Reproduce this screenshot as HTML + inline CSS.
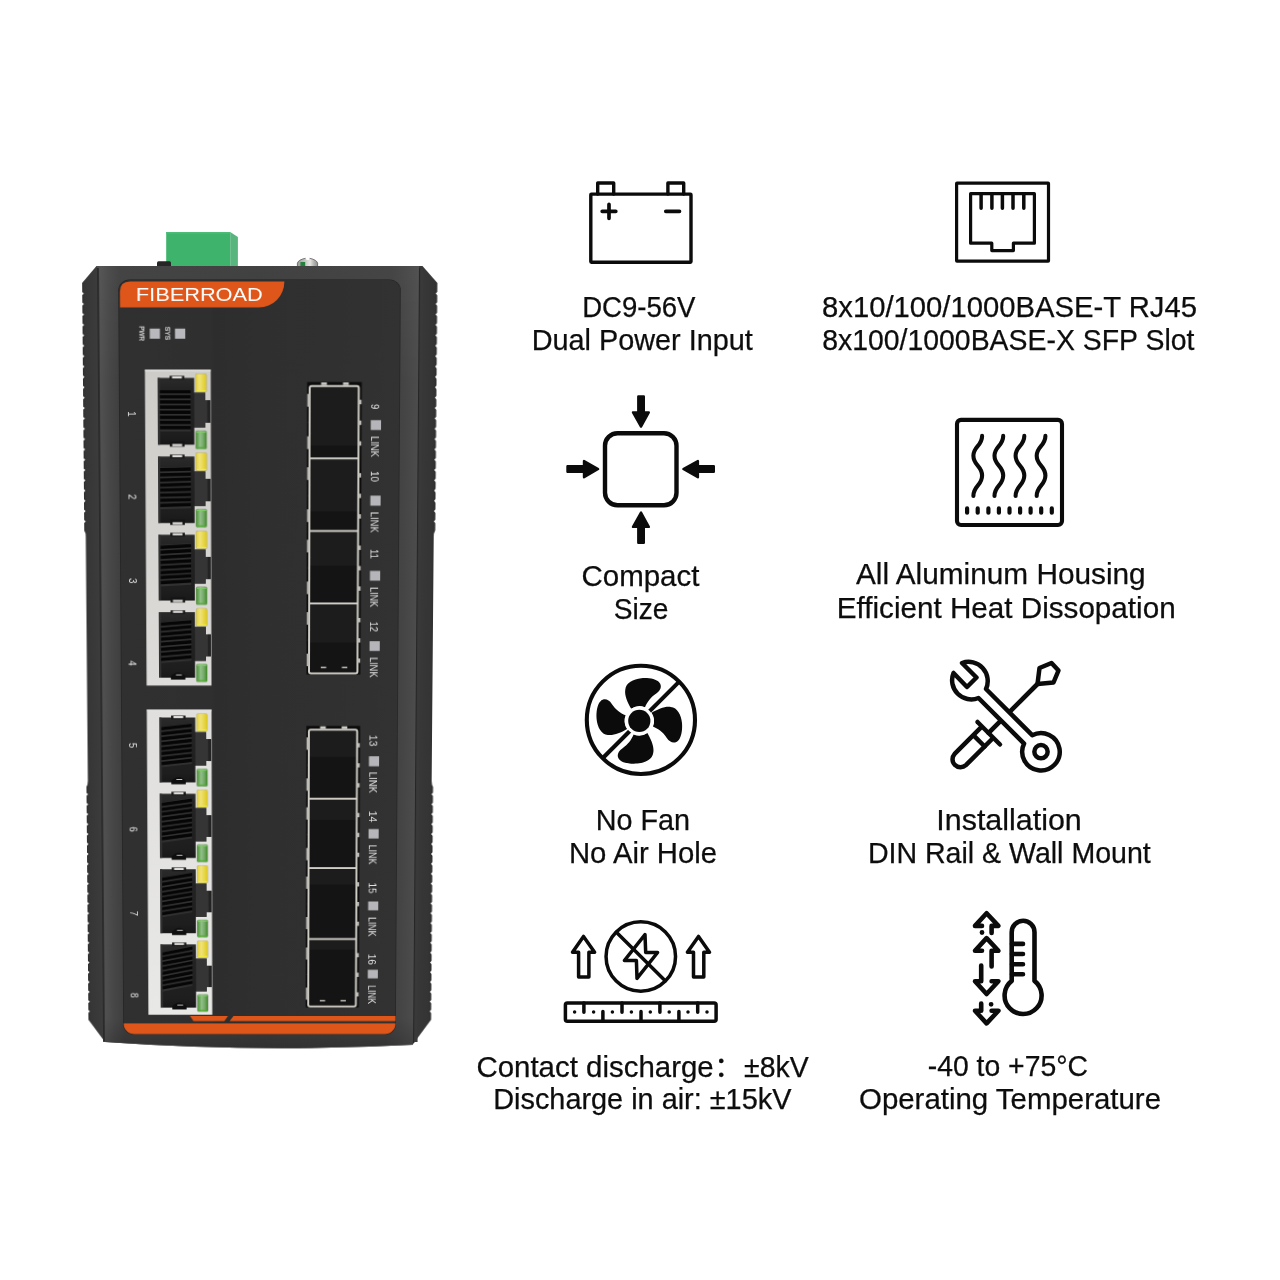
<!DOCTYPE html>
<html lang="en">
<head>
<meta charset="utf-8">
<title>FIBERROAD Industrial Switch</title>
<style>
html,body{margin:0;padding:0;background:#fff;}
#page{position:relative;width:1280px;height:1280px;overflow:hidden;background:#fff;font-family:"Liberation Sans","Noto Sans CJK SC",sans-serif;}
#topparts{position:absolute;left:0;top:0;}
#dev{position:absolute;left:60px;top:266px;width:400px;height:830px;transform-origin:200px 0;transform:matrix3d(1,0,0,0, 0,1,0,0.000048, 0,0,1,0, 0,0,0,1);}
#dev svg{display:block;}
#info{position:absolute;left:0;top:0;}
#info .t text{font-family:"Liberation Sans","Noto Sans CJK SC",sans-serif;font-size:28.9px;fill:#0d0d0d;stroke:#0d0d0d;stroke-width:0.25px;}
</style>
</head>
<body>
<div id="page">

<!-- parts on the top face of the device (not perspective transformed) -->
<svg id="topparts" width="1280" height="1280" viewBox="0 0 1280 1280">
  <defs>
    <linearGradient id="screwg" x1="0" x2="1" y1="0" y2="0">
      <stop offset="0" stop-color="#9a9896"/><stop offset="0.4" stop-color="#c9c7c4"/><stop offset="0.62" stop-color="#e6e5e3"/><stop offset="0.8" stop-color="#b5b3b0"/><stop offset="1" stop-color="#8e8c8a"/>
    </linearGradient>
  </defs>
  <polygon points="166.2,232 230.2,232 230.2,267 166.2,267" fill="#3db36b"/>
  <polygon points="230.2,232 237.9,237 237.9,267 230.2,267" fill="#58b57e"/>
  <rect x="166.2" y="232" width="64" height="1.6" fill="#4cbd78"/>
  <rect x="157" y="261.2" width="14" height="6" rx="1.5" fill="#262626"/>
  <path d="M297,267 L297,263.4 Q297.6,259.6 305.6,258 L306.6,260 L308.6,260 L309.5,258 Q317.4,259.6 318,263.4 L318,267 Z" fill="url(#screwg)"/>
  <path d="M297.4,266 L297.4,263.4 Q298,259.9 305.4,258.3 M309.7,258.3 Q317,259.9 317.6,263.4 L317.6,266" fill="none" stroke="#6e6e6e" stroke-width="0.9"/>
  <rect x="300.4" y="262" width="4.8" height="5" fill="#24803f"/>
</svg>

<div id="dev">
<svg width="400" height="830" viewBox="0 0 400 830">
<defs>
  <linearGradient id="frameg" x1="0" x2="1" y1="0" y2="0" gradientUnits="objectBoundingBox">
    <stop offset="0" stop-color="#4f4f4f"/><stop offset="0.012" stop-color="#4f4f4f"/><stop offset="0.035" stop-color="#474747"/><stop offset="0.07" stop-color="#3e3e3e"/>
    <stop offset="0.5" stop-color="#3b3b3b"/>
    <stop offset="0.915" stop-color="#3f3f3f"/><stop offset="0.96" stop-color="#454545"/><stop offset="1" stop-color="#4c4c4c"/>
  </linearGradient>
  <linearGradient id="sideg" x1="22" x2="377.5" y1="0" y2="0" gradientUnits="userSpaceOnUse">
    <stop offset="0" stop-color="#303030"/><stop offset="0.008" stop-color="#363636"/><stop offset="0.04" stop-color="#3b3b3b"/>
    <stop offset="0.5" stop-color="#383838"/><stop offset="0.955" stop-color="#383838"/><stop offset="0.99" stop-color="#343434"/><stop offset="1" stop-color="#2f2f2f"/>
  </linearGradient>
  <linearGradient id="panelg" x1="0" x2="1" y1="0" y2="0">
    <stop offset="0" stop-color="#303030"/><stop offset="0.325" stop-color="#2f2f2f"/><stop offset="0.34" stop-color="#2d2d2d"/>
    <stop offset="0.5" stop-color="#2f2f2f"/><stop offset="0.75" stop-color="#303030"/><stop offset="1" stop-color="#323232"/>
  </linearGradient>
  <linearGradient id="fadeg" x1="0" x2="0" y1="0" y2="1">
    <stop offset="0" stop-color="#000" stop-opacity="0"/><stop offset="0.45" stop-color="#000" stop-opacity="0"/><stop offset="1" stop-color="#000" stop-opacity="0.13"/>
  </linearGradient>
  <linearGradient id="topg" x1="0" x2="0" y1="0" y2="1">
    <stop offset="0" stop-color="#fff" stop-opacity="0.035"/><stop offset="1" stop-color="#fff" stop-opacity="0"/>
  </linearGradient>
  <linearGradient id="botg" x1="0" x2="0" y1="0" y2="1">
    <stop offset="0" stop-color="#000" stop-opacity="0"/><stop offset="1" stop-color="#000" stop-opacity="0.18"/>
  </linearGradient>
  <linearGradient id="yled" x1="0" x2="1" y1="0" y2="0">
    <stop offset="0" stop-color="#e6d232"/><stop offset="0.35" stop-color="#efe27a"/><stop offset="0.6" stop-color="#e9da55"/><stop offset="1" stop-color="#dcc81e"/>
  </linearGradient>
  <linearGradient id="gled" x1="0" x2="1" y1="0" y2="0">
    <stop offset="0" stop-color="#4b9233"/><stop offset="0.4" stop-color="#90bf88"/><stop offset="0.7" stop-color="#74a868"/><stop offset="1" stop-color="#3f8a28"/>
  </linearGradient>
  <linearGradient id="cavg" x1="0" x2="0" y1="0" y2="1">
    <stop offset="0" stop-color="#2b2b2b"/><stop offset="0.15" stop-color="#242424"/><stop offset="0.85" stop-color="#1e1e1e"/><stop offset="1" stop-color="#181818"/>
  </linearGradient>
  <clipPath id="panelclip"><rect x="58.6" y="14" width="281.9" height="783.5" rx="11"/></clipPath>
  <linearGradient id="rjg0" x1="0" x2="0" y1="0" y2="1"><stop offset="0" stop-color="#cdccc8"/><stop offset="1" stop-color="#dddcda"/></linearGradient>
  <linearGradient id="rjg1" x1="0" x2="0" y1="0" y2="1"><stop offset="0" stop-color="#e0dfdd"/><stop offset="1" stop-color="#e8e8e6"/></linearGradient>
  <g id="rjcav">
    <path d="M12.8,8.1 H49.5 V23.3 H60.6 V30.9 H65.6 V53.7 H60.6 V58.5 H49.5 V76 H12.8 Z" fill="url(#cavg)"/>
    <path d="M49.5,23.3 H60.6 V30.9 H65.6 V53.7 H60.6 V58.5 H49.5 Z" fill="#353535"/>
    <rect x="62.6" y="30.9" width="3" height="22.8" fill="#232323"/>
    <rect x="12.8" y="8.1" width="2.2" height="67.9" fill="#323232"/>
  </g>
  <g id="rjfront">
    <rect x="24.8" y="6.1" width="14.8" height="4" fill="#1a1a1a"/><rect x="27.2" y="6.6" width="10" height="2.2" fill="#dedddb"/>
    <rect x="50.6" y="3.8" width="11.6" height="19" rx="1.6" fill="#8f8a55" opacity="0.5"/>
    <rect x="51.1" y="4.3" width="10.7" height="17.9" rx="1.6" fill="url(#yled)"/>
    <rect x="51.6" y="20.6" width="9.7" height="1.3" fill="#f3ee3a" opacity="0.9"/>
    <rect x="50.6" y="61.5" width="11.6" height="19" rx="1.6" fill="#46603a" opacity="0.5"/>
    <rect x="51" y="62" width="10.7" height="18.2" rx="1.6" fill="url(#gled)"/>
    <rect x="51.5" y="62.4" width="9.7" height="1.4" fill="#7fd066" opacity="0.9"/><rect x="51.5" y="78.4" width="9.7" height="1.4" fill="#4fae2a" opacity="0.9"/>
  </g>
    <!-- top / bottom key notches -->
    <rect x="24.8" y="6.1" width="14.8" height="4" fill="#1a1a1a"/><rect x="27.2" y="6.6" width="10" height="2.2" fill="#d9d8d4"/>
    <rect x="24.8" y="72.4" width="14.8" height="5.6" fill="#141414"/><rect x="27.2" y="75.4" width="10" height="2.2" fill="#d9d8d4"/>
    <!-- LEDs -->
    <rect x="50.6" y="3.8" width="11.6" height="19" rx="1.6" fill="#8f8a55" opacity="0.5"/>
    <rect x="51.1" y="4.3" width="10.7" height="17.9" rx="1.6" fill="url(#yled)"/>
    <rect x="50.6" y="61.5" width="11.6" height="19" rx="1.6" fill="#46603a" opacity="0.5"/>
    <rect x="51" y="62" width="10.7" height="18.2" rx="1.6" fill="url(#gled)"/>
  </g>
  <g id="sfp">
    <rect x="1" y="1" width="49.6" height="73.4" fill="#1c1c1c"/>
    <rect x="1" y="61.4" width="49.6" height="13" fill="#131313"/>
    <rect x="1" y="0" width="49.6" height="2" fill="#cfcdc6"/>
  </g>
</defs>
<path d="M36.5,0 L362.5,0 L377.5,17 L377.5,782 L358.5,809 Q200,817.6 39,806 L22,782 L22,17 Z" fill="url(#sideg)"/>
<path d="M20.5,24.9 Q22.4,26 23.6,27.5 Q22.4,29 20.5,30.1 Z M379,24.9 Q377.1,26 375.9,27.5 Q377.1,29 379,30.1 Z M20.5,35.4 Q22.4,36.5 23.6,38 Q22.4,39.5 20.5,40.6 Z M379,35.4 Q377.1,36.5 375.9,38 Q377.1,39.5 379,40.6 Z M20.5,45.9 Q22.4,47 23.6,48.5 Q22.4,50 20.5,51.1 Z M379,45.9 Q377.1,47 375.9,48.5 Q377.1,50 379,51.1 Z M20.5,56.4 Q22.4,57.5 23.6,59 Q22.4,60.5 20.5,61.6 Z M379,56.4 Q377.1,57.5 375.9,59 Q377.1,60.5 379,61.6 Z M20.5,66.9 Q22.4,68 23.6,69.5 Q22.4,71 20.5,72.1 Z M379,66.9 Q377.1,68 375.9,69.5 Q377.1,71 379,72.1 Z M20.5,77.4 Q22.4,78.5 23.6,80 Q22.4,81.5 20.5,82.6 Z M379,77.4 Q377.1,78.5 375.9,80 Q377.1,81.5 379,82.6 Z M20.5,87.9 Q22.4,89 23.6,90.5 Q22.4,92 20.5,93.1 Z M379,87.9 Q377.1,89 375.9,90.5 Q377.1,92 379,93.1 Z M20.5,98.4 Q22.4,99.5 23.6,101 Q22.4,102.5 20.5,103.6 Z M379,98.4 Q377.1,99.5 375.9,101 Q377.1,102.5 379,103.6 Z M20.5,108.9 Q22.4,110 23.6,111.5 Q22.4,113 20.5,114.1 Z M379,108.9 Q377.1,110 375.9,111.5 Q377.1,113 379,114.1 Z M20.5,119.4 Q22.4,120.5 23.6,122 Q22.4,123.5 20.5,124.6 Z M379,119.4 Q377.1,120.5 375.9,122 Q377.1,123.5 379,124.6 Z M20.5,129.9 Q22.4,131 23.6,132.5 Q22.4,134 20.5,135.1 Z M379,129.9 Q377.1,131 375.9,132.5 Q377.1,134 379,135.1 Z M20.5,140.4 Q22.4,141.5 23.6,143 Q22.4,144.5 20.5,145.6 Z M379,140.4 Q377.1,141.5 375.9,143 Q377.1,144.5 379,145.6 Z M20.5,150.9 Q22.4,152 23.6,153.5 Q22.4,155 20.5,156.1 Z M379,150.9 Q377.1,152 375.9,153.5 Q377.1,155 379,156.1 Z M20.5,161.4 Q22.4,162.5 23.6,164 Q22.4,165.5 20.5,166.6 Z M379,161.4 Q377.1,162.5 375.9,164 Q377.1,165.5 379,166.6 Z M20.5,171.9 Q22.4,173 23.6,174.5 Q22.4,176 20.5,177.1 Z M379,171.9 Q377.1,173 375.9,174.5 Q377.1,176 379,177.1 Z M20.5,182.4 Q22.4,183.5 23.6,185 Q22.4,186.5 20.5,187.6 Z M379,182.4 Q377.1,183.5 375.9,185 Q377.1,186.5 379,187.6 Z M20.5,192.9 Q22.4,194 23.6,195.5 Q22.4,197 20.5,198.1 Z M379,192.9 Q377.1,194 375.9,195.5 Q377.1,197 379,198.1 Z M20.5,203.4 Q22.4,204.5 23.6,206 Q22.4,207.5 20.5,208.6 Z M379,203.4 Q377.1,204.5 375.9,206 Q377.1,207.5 379,208.6 Z M20.5,213.9 Q22.4,215 23.6,216.5 Q22.4,218 20.5,219.1 Z M379,213.9 Q377.1,215 375.9,216.5 Q377.1,218 379,219.1 Z M20.5,224.4 Q22.4,225.5 23.6,227 Q22.4,228.5 20.5,229.6 Z M379,224.4 Q377.1,225.5 375.9,227 Q377.1,228.5 379,229.6 Z M20.5,234.9 Q22.4,236 23.6,237.5 Q22.4,239 20.5,240.1 Z M379,234.9 Q377.1,236 375.9,237.5 Q377.1,239 379,240.1 Z M20.5,245.4 Q22.4,246.5 23.6,248 Q22.4,249.5 20.5,250.6 Z M379,245.4 Q377.1,246.5 375.9,248 Q377.1,249.5 379,250.6 Z M20.5,255.9 Q22.4,257 23.6,258.5 Q22.4,260 20.5,261.1 Z M379,255.9 Q377.1,257 375.9,258.5 Q377.1,260 379,261.1 Z M20.5,539.4 Q22.4,540.5 23.6,542 Q22.4,543.5 20.5,544.6 Z M379,539.4 Q377.1,540.5 375.9,542 Q377.1,543.5 379,544.6 Z M20.5,549.9 Q22.4,551 23.6,552.5 Q22.4,554 20.5,555.1 Z M379,549.9 Q377.1,551 375.9,552.5 Q377.1,554 379,555.1 Z M20.5,560.4 Q22.4,561.5 23.6,563 Q22.4,564.5 20.5,565.6 Z M379,560.4 Q377.1,561.5 375.9,563 Q377.1,564.5 379,565.6 Z M20.5,570.9 Q22.4,572 23.6,573.5 Q22.4,575 20.5,576.1 Z M379,570.9 Q377.1,572 375.9,573.5 Q377.1,575 379,576.1 Z M20.5,581.4 Q22.4,582.5 23.6,584 Q22.4,585.5 20.5,586.6 Z M379,581.4 Q377.1,582.5 375.9,584 Q377.1,585.5 379,586.6 Z M20.5,591.9 Q22.4,593 23.6,594.5 Q22.4,596 20.5,597.1 Z M379,591.9 Q377.1,593 375.9,594.5 Q377.1,596 379,597.1 Z M20.5,602.4 Q22.4,603.5 23.6,605 Q22.4,606.5 20.5,607.6 Z M379,602.4 Q377.1,603.5 375.9,605 Q377.1,606.5 379,607.6 Z M20.5,612.9 Q22.4,614 23.6,615.5 Q22.4,617 20.5,618.1 Z M379,612.9 Q377.1,614 375.9,615.5 Q377.1,617 379,618.1 Z M20.5,623.4 Q22.4,624.5 23.6,626 Q22.4,627.5 20.5,628.6 Z M379,623.4 Q377.1,624.5 375.9,626 Q377.1,627.5 379,628.6 Z M20.5,633.9 Q22.4,635 23.6,636.5 Q22.4,638 20.5,639.1 Z M379,633.9 Q377.1,635 375.9,636.5 Q377.1,638 379,639.1 Z M20.5,644.4 Q22.4,645.5 23.6,647 Q22.4,648.5 20.5,649.6 Z M379,644.4 Q377.1,645.5 375.9,647 Q377.1,648.5 379,649.6 Z M20.5,654.9 Q22.4,656 23.6,657.5 Q22.4,659 20.5,660.1 Z M379,654.9 Q377.1,656 375.9,657.5 Q377.1,659 379,660.1 Z M20.5,665.4 Q22.4,666.5 23.6,668 Q22.4,669.5 20.5,670.6 Z M379,665.4 Q377.1,666.5 375.9,668 Q377.1,669.5 379,670.6 Z M20.5,675.9 Q22.4,677 23.6,678.5 Q22.4,680 20.5,681.1 Z M379,675.9 Q377.1,677 375.9,678.5 Q377.1,680 379,681.1 Z M20.5,686.4 Q22.4,687.5 23.6,689 Q22.4,690.5 20.5,691.6 Z M379,686.4 Q377.1,687.5 375.9,689 Q377.1,690.5 379,691.6 Z M20.5,696.9 Q22.4,698 23.6,699.5 Q22.4,701 20.5,702.1 Z M379,696.9 Q377.1,698 375.9,699.5 Q377.1,701 379,702.1 Z M20.5,707.4 Q22.4,708.5 23.6,710 Q22.4,711.5 20.5,712.6 Z M379,707.4 Q377.1,708.5 375.9,710 Q377.1,711.5 379,712.6 Z M20.5,717.9 Q22.4,719 23.6,720.5 Q22.4,722 20.5,723.1 Z M379,717.9 Q377.1,719 375.9,720.5 Q377.1,722 379,723.1 Z M20.5,728.4 Q22.4,729.5 23.6,731 Q22.4,732.5 20.5,733.6 Z M379,728.4 Q377.1,729.5 375.9,731 Q377.1,732.5 379,733.6 Z M20.5,738.9 Q22.4,740 23.6,741.5 Q22.4,743 20.5,744.1 Z M379,738.9 Q377.1,740 375.9,741.5 Q377.1,743 379,744.1 Z M20.5,749.4 Q22.4,750.5 23.6,752 Q22.4,753.5 20.5,754.6 Z M379,749.4 Q377.1,750.5 375.9,752 Q377.1,753.5 379,754.6 Z M20.5,759.9 Q22.4,761 23.6,762.5 Q22.4,764 20.5,765.1 Z M379,759.9 Q377.1,761 375.9,762.5 Q377.1,764 379,765.1 Z M20.5,770.4 Q22.4,771.5 23.6,773 Q22.4,774.5 20.5,775.6 Z M379,770.4 Q377.1,771.5 375.9,773 Q377.1,774.5 379,775.6 Z" fill="#fff"/>
<path d="M20,268 L22,268 Q23.5,270 23.5,274 L23.5,528 Q23.5,532 22,534 L20,534 Z M380,268 L377.5,268 Q376,270 376,274 L376,528 Q376,532 377.5,534 L380,534 Z" fill="#fff"/>
<path d="M37,0 L359,0 L359,808.9 Q200,817.6 39,806 L37,806 Z" fill="url(#frameg)"/>
<path d="M37,780 L359,780 L359,808.9 Q200,817.6 39,806 L37,806 Z" fill="url(#botg)"/>
<rect x="39" y="0" width="320" height="120" fill="url(#topg)"/>
<rect x="37" y="2" width="1.8" height="803" fill="#2a2a2a"/>
<rect x="359" y="2" width="1.2" height="805" fill="#262626"/><rect x="360.2" y="3" width="3.4" height="803" fill="#393939"/>
<rect x="58.1" y="13.5" width="282.9" height="784.5" rx="11.5" fill="#1d1f20"/>
<rect x="58.6" y="14" width="281.9" height="783.5" rx="11" fill="url(#panelg)"/>
<path d="M59.8,41.6 L59.8,26 Q59.8,15.6 70,15.6 L224.4,15.6 A25.4,26 0 0 1 199,41.6 Z" fill="#de561a"/>
<text x="75.8" y="35.4" font-family="Liberation Sans, sans-serif" font-size="18.2" fill="#fff" textLength="127" lengthAdjust="spacingAndGlyphs">FIBERROAD</text>
<rect x="89.4" y="62.8" width="10.2" height="10.2" fill="#b9b9bd"/><rect x="114.7" y="62.8" width="10.3" height="10.2" fill="#b9b9bd"/>
<text transform="translate(79.3,60.2) rotate(90)" font-family="Liberation Sans, sans-serif" font-size="6.9" fill="#e6e6e6" stroke="#e6e6e6" stroke-width="0.15" textLength="15" lengthAdjust="spacingAndGlyphs">PWR</text>
<text transform="translate(104.8,60.7) rotate(90)" font-family="Liberation Sans, sans-serif" font-size="6.9" fill="#e6e6e6" stroke="#e6e6e6" stroke-width="0.15" textLength="13.6" lengthAdjust="spacingAndGlyphs">SYS</text>
<g clip-path="url(#panelclip)"><rect x="58" y="786" width="284" height="13" fill="#de561a"/><polygon points="127.4,778 166.8,778 163,783.6 131,783.6" fill="#de561a"/><polygon points="172.5,778 341,778 341,783.6 168.5,783.6" fill="#de561a"/></g>
<rect x="84.3" y="104.3" width="66.2" height="323.9" fill="url(#rjg0)"/>
<rect x="84.3" y="104.3" width="66.2" height="1.2" fill="#ecebe9"/>
<g transform="translate(84.3,104.3)"><use href="#rjcav"/><g transform="translate(14.9,20.4) skewY(-0)"><rect x="0" y="-0.6" width="31" height="42.6" fill="#323232"/><g fill="#060606"><rect x="0" y="0" width="31" height="3.5"/><rect x="0" y="5.2" width="31" height="3.5"/><rect x="0" y="10.4" width="31" height="3.5"/><rect x="0" y="15.6" width="31" height="3.5"/><rect x="0" y="20.8" width="31" height="3.5"/><rect x="0" y="26" width="31" height="3.5"/><rect x="0" y="31.2" width="31" height="3.5"/><rect x="0" y="36.4" width="31" height="3.5"/></g></g><rect x="24.8" y="72.4" width="14.8" height="5.6" fill="#141414"/><rect x="27.2" y="75.2" width="10" height="2.3" fill="#dedddb"/><use href="#rjfront"/></g>
<g transform="translate(84.3,184.2)"><use href="#rjcav"/><g transform="translate(14.9,19.85) skewY(-1.6)"><rect x="0" y="-0.6" width="31" height="42.6" fill="#323232"/><g fill="#060606"><rect x="0" y="0" width="31" height="3.5"/><rect x="0" y="5.2" width="31" height="3.5"/><rect x="0" y="10.4" width="31" height="3.5"/><rect x="0" y="15.6" width="31" height="3.5"/><rect x="0" y="20.8" width="31" height="3.5"/><rect x="0" y="26" width="31" height="3.5"/><rect x="0" y="31.2" width="31" height="3.5"/><rect x="0" y="36.4" width="31" height="3.5"/></g></g><rect x="24.8" y="72.4" width="14.8" height="5.6" fill="#141414"/><rect x="27.2" y="75.2" width="10" height="2.3" fill="#dedddb"/><use href="#rjfront"/></g>
<g transform="translate(84.3,264.1)"><use href="#rjcav"/><g transform="translate(14.9,19.3) skewY(-3.2)"><rect x="0" y="-0.6" width="31" height="42.6" fill="#323232"/><g fill="#060606"><rect x="0" y="0" width="31" height="3.5"/><rect x="0" y="5.2" width="31" height="3.5"/><rect x="0" y="10.4" width="31" height="3.5"/><rect x="0" y="15.6" width="31" height="3.5"/><rect x="0" y="20.8" width="31" height="3.5"/><rect x="0" y="26" width="31" height="3.5"/><rect x="0" y="31.2" width="31" height="3.5"/><rect x="0" y="36.4" width="31" height="3.5"/></g></g><rect x="24.8" y="72.4" width="14.8" height="5.6" fill="#141414"/><rect x="27.2" y="75.2" width="10" height="2.3" fill="#dedddb"/><use href="#rjfront"/></g>
<g transform="translate(84.3,344)"><use href="#rjcav"/><g transform="translate(14.9,18.75) skewY(-4.8)"><rect x="0" y="-0.6" width="31" height="42.6" fill="#323232"/><g fill="#060606"><rect x="0" y="0" width="31" height="3.5"/><rect x="0" y="5.2" width="31" height="3.5"/><rect x="0" y="10.4" width="31" height="3.5"/><rect x="0" y="15.6" width="31" height="3.5"/><rect x="0" y="20.8" width="31" height="3.5"/><rect x="0" y="26" width="31" height="3.5"/><rect x="0" y="31.2" width="31" height="3.5"/><rect x="0" y="36.4" width="31" height="3.5"/></g></g><path d="M24.8,78 V74.5 Q32.2,66.5 39.6,74.5 V78 Z" fill="#0e0e0e"/><rect x="30" y="72.6" width="6" height="1" fill="#c9c8c5"/><use href="#rjfront"/></g>
<rect x="84.3" y="453.4" width="66.2" height="323.3" fill="url(#rjg1)"/>
<rect x="84.3" y="453.4" width="66.2" height="1.2" fill="#ecebe9"/>
<g transform="translate(84.3,453.4)"><use href="#rjcav"/><g transform="translate(14.9,18.2) skewY(-6.4)"><rect x="0" y="-0.6" width="31" height="42.6" fill="#323232"/><g fill="#060606"><rect x="0" y="0" width="31" height="3.5"/><rect x="0" y="5.2" width="31" height="3.5"/><rect x="0" y="10.4" width="31" height="3.5"/><rect x="0" y="15.6" width="31" height="3.5"/><rect x="0" y="20.8" width="31" height="3.5"/><rect x="0" y="26" width="31" height="3.5"/><rect x="0" y="31.2" width="31" height="3.5"/><rect x="0" y="36.4" width="31" height="3.5"/></g></g><path d="M24.8,78 V74.5 Q32.2,66.5 39.6,74.5 V78 Z" fill="#0e0e0e"/><rect x="30" y="72.6" width="6" height="1" fill="#c9c8c5"/><use href="#rjfront"/></g>
<g transform="translate(84.3,533.3)"><use href="#rjcav"/><g transform="translate(14.9,17.65) skewY(-8)"><rect x="0" y="-0.6" width="31" height="42.6" fill="#323232"/><g fill="#060606"><rect x="0" y="0" width="31" height="3.5"/><rect x="0" y="5.2" width="31" height="3.5"/><rect x="0" y="10.4" width="31" height="3.5"/><rect x="0" y="15.6" width="31" height="3.5"/><rect x="0" y="20.8" width="31" height="3.5"/><rect x="0" y="26" width="31" height="3.5"/><rect x="0" y="31.2" width="31" height="3.5"/><rect x="0" y="36.4" width="31" height="3.5"/></g></g><path d="M24.8,78 V74.5 Q32.2,66.5 39.6,74.5 V78 Z" fill="#0e0e0e"/><rect x="30" y="72.6" width="6" height="1" fill="#c9c8c5"/><use href="#rjfront"/></g>
<g transform="translate(84.3,613.2)"><use href="#rjcav"/><g transform="translate(14.9,17.1) skewY(-9.6)"><rect x="0" y="-0.6" width="31" height="42.6" fill="#323232"/><g fill="#060606"><rect x="0" y="0" width="31" height="3.5"/><rect x="0" y="5.2" width="31" height="3.5"/><rect x="0" y="10.4" width="31" height="3.5"/><rect x="0" y="15.6" width="31" height="3.5"/><rect x="0" y="20.8" width="31" height="3.5"/><rect x="0" y="26" width="31" height="3.5"/><rect x="0" y="31.2" width="31" height="3.5"/><rect x="0" y="36.4" width="31" height="3.5"/></g></g><path d="M24.8,78 V74.5 Q32.2,66.5 39.6,74.5 V78 Z" fill="#0e0e0e"/><rect x="30" y="72.6" width="6" height="1" fill="#c9c8c5"/><use href="#rjfront"/></g>
<g transform="translate(84.3,693.1)"><use href="#rjcav"/><g transform="translate(14.9,16.55) skewY(-11.2)"><rect x="0" y="-0.6" width="31" height="42.6" fill="#323232"/><g fill="#060606"><rect x="0" y="0" width="31" height="3.5"/><rect x="0" y="5.2" width="31" height="3.5"/><rect x="0" y="10.4" width="31" height="3.5"/><rect x="0" y="15.6" width="31" height="3.5"/><rect x="0" y="20.8" width="31" height="3.5"/><rect x="0" y="26" width="31" height="3.5"/><rect x="0" y="31.2" width="31" height="3.5"/><rect x="0" y="36.4" width="31" height="3.5"/></g></g><path d="M24.8,78 V74.5 Q32.2,66.5 39.6,74.5 V78 Z" fill="#0e0e0e"/><rect x="30" y="72.6" width="6" height="1" fill="#c9c8c5"/><use href="#rjfront"/></g>
<rect x="247.4" y="116.7" width="55" height="299.9" fill="#0c0c0c"/>
<rect x="261.5" y="117.1" width="5.8" height="3" fill="#cfcdc6"/><rect x="283.5" y="117.1" width="5.8" height="3" fill="#cfcdc6"/>
<rect x="250" y="119.7" width="49.4" height="74.5" fill="#1c1c1c"/>
<rect x="250" y="181.2" width="49.4" height="13" fill="#141414"/>
<rect x="250" y="194.2" width="49.4" height="74.2" fill="#1c1c1c"/>
<rect x="250" y="248.4" width="49.4" height="20" fill="#141414"/>
<rect x="250" y="193.2" width="49.4" height="2" fill="#cfcdc6"/>
<rect x="250" y="268.4" width="49.4" height="74.6" fill="#1c1c1c"/>
<rect x="250" y="304" width="49.4" height="39" fill="#141414"/>
<rect x="250" y="267.4" width="49.4" height="2" fill="#cfcdc6"/>
<rect x="250" y="343" width="49.4" height="73.6" fill="#1c1c1c"/>
<rect x="250" y="383.6" width="49.4" height="33" fill="#141414"/>
<rect x="250" y="342" width="49.4" height="2" fill="#cfcdc6"/>
<rect x="250" y="120.7" width="49.4" height="294.9" rx="2" fill="none" stroke="#cfcdc6" stroke-width="2"/>
<rect x="247.6" y="128.7" width="2.6" height="13" fill="#bdbbb5"/><rect x="247.6" y="171.7" width="2.6" height="13" fill="#bdbbb5"/>
<path d="M250.6,146.7 Q248.2,157.7 250.6,168.7" stroke="#cfcdc6" stroke-width="1" fill="none"/>
<rect x="299.8" y="134.7" width="2.4" height="4.5" fill="#bdbbb5"/>
<rect x="299.8" y="155.7" width="2.4" height="4.5" fill="#bdbbb5"/>
<rect x="299.8" y="176.7" width="2.4" height="4.5" fill="#bdbbb5"/>
<rect x="247.6" y="203.2" width="2.6" height="13" fill="#bdbbb5"/><rect x="247.6" y="246.2" width="2.6" height="13" fill="#bdbbb5"/>
<path d="M250.6,221.2 Q248.2,232.2 250.6,243.2" stroke="#cfcdc6" stroke-width="1" fill="none"/>
<rect x="299.8" y="209.2" width="2.4" height="4.5" fill="#bdbbb5"/>
<rect x="299.8" y="230.2" width="2.4" height="4.5" fill="#bdbbb5"/>
<rect x="299.8" y="251.2" width="2.4" height="4.5" fill="#bdbbb5"/>
<rect x="247.6" y="277.4" width="2.6" height="13" fill="#bdbbb5"/><rect x="247.6" y="320.4" width="2.6" height="13" fill="#bdbbb5"/>
<path d="M250.6,295.4 Q248.2,306.4 250.6,317.4" stroke="#cfcdc6" stroke-width="1" fill="none"/>
<rect x="299.8" y="283.4" width="2.4" height="4.5" fill="#bdbbb5"/>
<rect x="299.8" y="304.4" width="2.4" height="4.5" fill="#bdbbb5"/>
<rect x="299.8" y="325.4" width="2.4" height="4.5" fill="#bdbbb5"/>
<rect x="247.6" y="352" width="2.6" height="13" fill="#bdbbb5"/><rect x="247.6" y="395" width="2.6" height="13" fill="#bdbbb5"/>
<path d="M250.6,370 Q248.2,381 250.6,392" stroke="#cfcdc6" stroke-width="1" fill="none"/>
<rect x="299.8" y="358" width="2.4" height="4.5" fill="#bdbbb5"/>
<rect x="299.8" y="379" width="2.4" height="4.5" fill="#bdbbb5"/>
<rect x="299.8" y="400" width="2.4" height="4.5" fill="#bdbbb5"/>
<rect x="262" y="408.6" width="5.5" height="1.6" fill="#bdbbb5"/><rect x="283.5" y="408.6" width="5.5" height="1.6" fill="#bdbbb5"/>
<rect x="247.4" y="470.3" width="55" height="298.5" fill="#0c0c0c"/>
<rect x="261.5" y="470.7" width="5.8" height="3" fill="#cfcdc6"/><rect x="283.5" y="470.7" width="5.8" height="3" fill="#cfcdc6"/>
<rect x="250" y="473.3" width="49.4" height="73.4" fill="#1c1c1c"/>
<rect x="250" y="502.7" width="49.4" height="44" fill="#141414"/>
<rect x="250" y="546.7" width="49.4" height="73.3" fill="#1c1c1c"/>
<rect x="250" y="569" width="49.4" height="51" fill="#141414"/>
<rect x="250" y="545.7" width="49.4" height="2" fill="#cfcdc6"/>
<rect x="250" y="620" width="49.4" height="75.5" fill="#1c1c1c"/>
<rect x="250" y="637.5" width="49.4" height="58" fill="#141414"/>
<rect x="250" y="619" width="49.4" height="2" fill="#cfcdc6"/>
<rect x="250" y="695.5" width="49.4" height="73.3" fill="#1c1c1c"/>
<rect x="250" y="706.8" width="49.4" height="62" fill="#141414"/>
<rect x="250" y="694.5" width="49.4" height="2" fill="#cfcdc6"/>
<rect x="250" y="474.3" width="49.4" height="293.5" rx="2" fill="none" stroke="#cfcdc6" stroke-width="2"/>
<rect x="247.6" y="482.3" width="2.6" height="13" fill="#bdbbb5"/><rect x="247.6" y="525.3" width="2.6" height="13" fill="#bdbbb5"/>
<path d="M250.6,500.3 Q248.2,511.3 250.6,522.3" stroke="#cfcdc6" stroke-width="1" fill="none"/>
<rect x="299.8" y="488.3" width="2.4" height="4.5" fill="#bdbbb5"/>
<rect x="299.8" y="509.3" width="2.4" height="4.5" fill="#bdbbb5"/>
<rect x="299.8" y="530.3" width="2.4" height="4.5" fill="#bdbbb5"/>
<rect x="247.6" y="555.7" width="2.6" height="13" fill="#bdbbb5"/><rect x="247.6" y="598.7" width="2.6" height="13" fill="#bdbbb5"/>
<path d="M250.6,573.7 Q248.2,584.7 250.6,595.7" stroke="#cfcdc6" stroke-width="1" fill="none"/>
<rect x="299.8" y="561.7" width="2.4" height="4.5" fill="#bdbbb5"/>
<rect x="299.8" y="582.7" width="2.4" height="4.5" fill="#bdbbb5"/>
<rect x="299.8" y="603.7" width="2.4" height="4.5" fill="#bdbbb5"/>
<rect x="247.6" y="629" width="2.6" height="13" fill="#bdbbb5"/><rect x="247.6" y="672" width="2.6" height="13" fill="#bdbbb5"/>
<path d="M250.6,647 Q248.2,658 250.6,669" stroke="#cfcdc6" stroke-width="1" fill="none"/>
<rect x="299.8" y="635" width="2.4" height="4.5" fill="#bdbbb5"/>
<rect x="299.8" y="656" width="2.4" height="4.5" fill="#bdbbb5"/>
<rect x="299.8" y="677" width="2.4" height="4.5" fill="#bdbbb5"/>
<rect x="247.6" y="704.5" width="2.6" height="13" fill="#bdbbb5"/><rect x="247.6" y="747.5" width="2.6" height="13" fill="#bdbbb5"/>
<path d="M250.6,722.5 Q248.2,733.5 250.6,744.5" stroke="#cfcdc6" stroke-width="1" fill="none"/>
<rect x="299.8" y="710.5" width="2.4" height="4.5" fill="#bdbbb5"/>
<rect x="299.8" y="731.5" width="2.4" height="4.5" fill="#bdbbb5"/>
<rect x="299.8" y="752.5" width="2.4" height="4.5" fill="#bdbbb5"/>
<rect x="262" y="760.8" width="5.5" height="1.6" fill="#bdbbb5"/><rect x="283.5" y="760.8" width="5.5" height="1.6" fill="#bdbbb5"/>
<g font-family="Liberation Sans, sans-serif" fill="#e2e2e2" font-size="10.6">
<text transform="translate(67.1,146.2) rotate(90)" textLength="5.4" lengthAdjust="spacingAndGlyphs">1</text>
<text transform="translate(66.89,230.7) rotate(90)" textLength="5.4" lengthAdjust="spacingAndGlyphs">2</text>
<text transform="translate(66.67,316.9) rotate(90)" textLength="5.4" lengthAdjust="spacingAndGlyphs">3</text>
<text transform="translate(66.46,402.3) rotate(90)" textLength="5.4" lengthAdjust="spacingAndGlyphs">4</text>
<text transform="translate(66.24,487.9) rotate(90)" textLength="5.4" lengthAdjust="spacingAndGlyphs">5</text>
<text transform="translate(66.03,576.3) rotate(90)" textLength="5.4" lengthAdjust="spacingAndGlyphs">6</text>
<text transform="translate(65.81,665.4) rotate(90)" textLength="5.4" lengthAdjust="spacingAndGlyphs">7</text>
<text transform="translate(65.6,753.1) rotate(90)" textLength="5.4" lengthAdjust="spacingAndGlyphs">8</text>
<text transform="translate(312.2,139.1) rotate(90)" textLength="5.3" lengthAdjust="spacingAndGlyphs">9</text>
<rect x="311.6" y="155.3" width="10.4" height="10" fill="#b6b6ba"/>
<text transform="translate(312.3,171.5) rotate(90)" font-size="10.3" textLength="21.5" lengthAdjust="spacingAndGlyphs">LINK</text>
<text transform="translate(312.2,207) rotate(90)" textLength="11.2" lengthAdjust="spacingAndGlyphs">10</text>
<rect x="311.6" y="232.2" width="10.4" height="10.3" fill="#b6b6ba"/>
<text transform="translate(312.3,248.8) rotate(90)" font-size="10.3" textLength="21.2" lengthAdjust="spacingAndGlyphs">LINK</text>
<text transform="translate(312.2,286.9) rotate(90)" textLength="10" lengthAdjust="spacingAndGlyphs">11</text>
<rect x="311.6" y="309.4" width="10.4" height="10.1" fill="#b6b6ba"/>
<text transform="translate(312.3,325.9) rotate(90)" font-size="10.3" textLength="20.9" lengthAdjust="spacingAndGlyphs">LINK</text>
<text transform="translate(312.2,361.8) rotate(90)" textLength="10.6" lengthAdjust="spacingAndGlyphs">12</text>
<rect x="311.6" y="382.1" width="10.4" height="10.1" fill="#b6b6ba"/>
<text transform="translate(312.3,398.7) rotate(90)" font-size="10.3" textLength="21" lengthAdjust="spacingAndGlyphs">LINK</text>
<text transform="translate(312.2,479.8) rotate(90)" textLength="11.8" lengthAdjust="spacingAndGlyphs">13</text>
<rect x="311.6" y="502.1" width="10.4" height="10.5" fill="#b6b6ba"/>
<text transform="translate(312.3,518.5) rotate(90)" font-size="10.3" textLength="22.2" lengthAdjust="spacingAndGlyphs">LINK</text>
<text transform="translate(312.2,559.6) rotate(90)" textLength="11.9" lengthAdjust="spacingAndGlyphs">14</text>
<rect x="311.6" y="578.7" width="10.4" height="10" fill="#b6b6ba"/>
<text transform="translate(312.3,595.2) rotate(90)" font-size="10.3" textLength="20.9" lengthAdjust="spacingAndGlyphs">LINK</text>
<text transform="translate(312.2,635.6) rotate(90)" textLength="11.3" lengthAdjust="spacingAndGlyphs">15</text>
<rect x="311.6" y="655.5" width="10.4" height="9.4" fill="#b6b6ba"/>
<text transform="translate(312.3,671.9) rotate(90)" font-size="10.3" textLength="21" lengthAdjust="spacingAndGlyphs">LINK</text>
<text transform="translate(312.2,711.5) rotate(90)" textLength="11.4" lengthAdjust="spacingAndGlyphs">16</text>
<rect x="311.6" y="728.4" width="10.4" height="9.2" fill="#b6b6ba"/>
<text transform="translate(312.3,745) rotate(90)" font-size="10.3" textLength="20.1" lengthAdjust="spacingAndGlyphs">LINK</text>
</g>
</svg>
</div>

<svg id="info" width="1280" height="1280" viewBox="0 0 1280 1280">

<g id="icons" fill="none" stroke="#0b0b0b" stroke-linecap="round" stroke-linejoin="round">
  <!-- battery -->
  <g stroke-width="3.4">
    <rect x="590.8" y="194.1" width="100.2" height="68.1" rx="0.6"/>
    <path d="M597.7,194.1 V183 H613.7 V194.1 M667.9,194.1 V183 H683.7 V194.1"/>
    <path d="M602.2,211.3 H615.8 M609,204.4 V218.3 M665.8,211.3 H679.5" stroke-width="3.7"/>
  </g>
  <!-- RJ45 port -->
  <g stroke-width="3.2">
    <rect x="956.6" y="183.2" width="91.9" height="77.9" rx="0.4"/>
    <path d="M970.6,193.7 H1034.4 V243.2 H1013.4 V250.6 H991.8 V243.2 H970.6 Z"/>
    <path d="M981.1,194 V208.3 M991.9,194 V208.3 M1002.4,194 V208.3 M1013,194 V208.3 M1023.8,194 V208.3" stroke-width="3.5"/>
  </g>
  <!-- compact size -->
  <rect x="605" y="433.2" width="71.5" height="72.1" rx="12.5" stroke-width="4.4"/>
  <g fill="#0b0b0b" stroke-width="2.4">
    <path d="M638.3,396.5 H643.8 V412.4 H648.8 L641,426.6 L633,412.4 H638.3 Z"/>
    <path d="M638.3,542.8 H643.8 V526.9 H648.8 L641,512.5 L633,526.9 H638.3 Z"/>
    <path d="M567.5,466.3 V471.8 H584 V477.2 L598.1,469 L584,461 V466.3 Z"/>
    <path d="M713.8,466.3 V471.8 H697.9 V477.2 L683.4,469 L697.9,461 V466.3 Z"/>
  </g>
  <!-- heat dissipation -->
  <g stroke-width="4.1">
    <rect x="957" y="419.9" width="105" height="105.1" rx="4"/>
    <path id="wav" d="M982.1,435.9 C982.1,446 973.4,446 973.4,455.7 C973.4,465.6 982.1,465.6 982.1,475.5 C982.1,485.7 973.4,485.7 973.4,495.9"/>
    <use href="#wav" x="21.1"/><use href="#wav" x="42.2"/><use href="#wav" x="63.3"/>
    <path d="M967.1,508.4 V512.7 M977.7,508.4 V512.7 M988.4,508.4 V512.7 M998.9,508.4 V512.7 M1009.5,508.4 V512.7 M1020.1,508.4 V512.7 M1030.6,508.4 V512.7 M1041.2,508.4 V512.7 M1051.8,508.4 V512.7" stroke-width="4.2"/>
  </g>
  <!-- no fan -->
  <g>
    <circle cx="640.9" cy="719.9" r="54.1" stroke-width="4.1"/>
    <g transform="translate(639.3,720.9)" fill="#0b0b0b" stroke="none">
      <path id="blade" d="M-8.1,-12.2 C-12,-19 -15,-26 -14,-31.5 C-13.5,-38 -6,-42 2,-42.7 C9,-43.3 17,-42 20,-38.5 C23,-35 21.5,-30.5 17,-27.5 C11,-23.5 8,-19 5.7,-13.7 A14.7,14.7 0 0 0 -8.1,-12.2 Z"/>
      <use href="#blade" transform="rotate(90)"/><use href="#blade" transform="rotate(180)"/><use href="#blade" transform="rotate(270)"/>
    </g>
    <path d="M679.2,681.6 L602.6,758.2" stroke-width="4.1" stroke-linecap="butt"/>
    <circle cx="639.3" cy="720.9" r="14.4" fill="#fff" stroke="none"/>
    <circle cx="639.3" cy="720.9" r="11.1" fill="#0b0b0b" stroke="none"/>
  </g>
  <!-- wrench + screwdriver -->
  <g stroke-width="4.5">
    <!-- screwdriver -->
    <path d="M1037.5,684 L1039.5,668 L1051.5,663 L1058.5,670.5 L1053.5,682.5 Z"/>
    <path d="M1037.5,684 L988.6,732.9" stroke-width="4.6"/>
    <path d="M977.5,722 L1000,744.5"/>
    <path d="M980.3,728.2 L954.6,753.9 A8,8 0 0 0 965.9,765.2 L992.6,738.5"/>
    <path d="M973.8,735.6 L984.7,746.5"/>
    <!-- wrench -->
    <path fill="#fff" d="M962,663 L976.5,677.5 L967,687 L953.5,673 A19.2,19.2 0 0 0 978.5,698 L1024.1,743.6 A18.75,18.75 0 1 0 1032.2,735.2 L986,689 A19.2,19.2 0 0 0 962,663 Z"/>
    <circle cx="1041" cy="751.7" r="6.65"/>
  </g>
  <!-- ESD -->
  <g stroke-width="3.5">
    <circle cx="640.8" cy="956.5" r="34.75"/>
    <path d="M616.4,932.3 L665.2,980.7"/>
    <path d="M645,934.6 L645.7,952.5 L657.6,952.5 L637,978.4 L636.4,960.5 L624.4,960.5 Z"/>
    <path d="M583.5,936.4 L594.6,952.2 H588.9 V977.1 H578.6 V952.2 H572.5 Z"/>
    <path d="M698.5,936.4 L709.5,952.2 H703.8 V977.1 H693.5 V952.2 H687.4 Z"/>
    <rect x="565.4" y="1003" width="150.7" height="18.2" rx="2"/>
    <path d="M583.9,1003 V1012.3 M622,1003 V1012.3 M659.9,1003 V1012.3 M697.7,1003 V1012.3 M602.9,1021.2 V1011.6 M641,1021.2 V1011.6 M678.9,1021.2 V1011.6"/>
    <path d="M574.6,1012 h0.01 M593.6,1012 h0.01 M612.4,1012 h0.01 M631.4,1012 h0.01 M650.3,1012 h0.01 M669.2,1012 h0.01 M688,1012 h0.01 M707,1012 h0.01" stroke-width="3.5"/>
  </g>
  <!-- thermometer -->
  <g stroke-width="4.6">
    <path d="M1011.7,980.9 V932.2 A11.4,11.4 0 0 1 1034.5,932.2 V980.9 A18.5,18.5 0 1 1 1011.7,980.9 Z"/>
    <path d="M1012,943.9 H1023 M1012,954 H1023 M1012,964.2 H1023 M1012,974.3 H1023"/>
    <path d="M982,925.9 H975 L986.6,913.2 L998.4,925.9 H991.6 V933"/>
    <path d="M982,932.5 h0.01 M991.1,1004.3 h0.01" stroke-width="4.8"/>
    <path d="M982,950.8 H975 L986.6,938.1 L998.4,950.8 H991.6 V966.5"/>
    <path d="M981.2,965.5 V981.25 H975 L986.6,994 L998.4,981.25 H991.6"/>
    <path d="M981.2,1003.6 V1010.7 H975 L986.6,1023.4 L998.4,1010.7 H991.6"/>
  </g>
</g>

<g class="t">
<text x="582.13" y="317.2" textLength="113.39" lengthAdjust="spacingAndGlyphs">DC9-56V</text>
<text x="531.67" y="350" textLength="221.23" lengthAdjust="spacingAndGlyphs">Dual Power Input</text>
<text x="822.05" y="317.2" textLength="374.97" lengthAdjust="spacingAndGlyphs">8x10/100/1000BASE-T RJ45</text>
<text x="822.13" y="350" textLength="372.27" lengthAdjust="spacingAndGlyphs">8x100/1000BASE-X SFP Slot</text>
<text x="581.5" y="585.9" textLength="117.93" lengthAdjust="spacingAndGlyphs">Compact</text>
<text x="613.64" y="618.5" textLength="54.73" lengthAdjust="spacingAndGlyphs">Size</text>
<text x="855.99" y="584.1" textLength="289.7" lengthAdjust="spacingAndGlyphs">All Aluminum Housing</text>
<text x="836.77" y="618.3" textLength="338.87" lengthAdjust="spacingAndGlyphs">Efficient Heat Dissopation</text>
<text x="595.73" y="829.9" textLength="94.34" lengthAdjust="spacingAndGlyphs">No Fan</text>
<text x="568.96" y="862.5" textLength="148.09" lengthAdjust="spacingAndGlyphs">No Air Hole</text>
<text x="936.29" y="829.5" textLength="145.5" lengthAdjust="spacingAndGlyphs">Installation</text>
<text x="867.88" y="862.5" textLength="282.84" lengthAdjust="spacingAndGlyphs">DIN Rail &amp; Wall Mount</text>
<text x="493.23" y="1108.9" textLength="298.17" lengthAdjust="spacingAndGlyphs">Discharge in air: ±15kV</text>
<text x="927.76" y="1076.25" textLength="160.25" lengthAdjust="spacingAndGlyphs">-40 to +75°C</text>
<text x="859" y="1108.75" textLength="302.02" lengthAdjust="spacingAndGlyphs">Operating Temperature</text>
<text y="1076.6"><tspan x="476.45" textLength="237.28" lengthAdjust="spacingAndGlyphs">Contact discharge</tspan><tspan x="714">：</tspan><tspan x="744.12" textLength="64.63" lengthAdjust="spacingAndGlyphs">±8kV</tspan></text>
</g>
</svg>

</div>
</body>
</html>
